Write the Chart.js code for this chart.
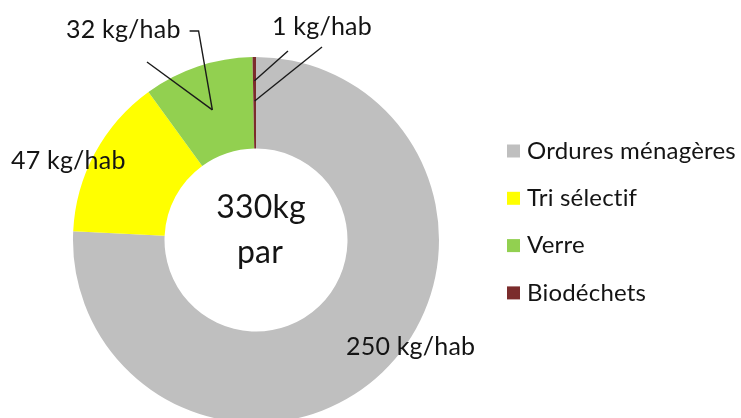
<!DOCTYPE html>
<html>
<head>
<meta charset="utf-8">
<script src="https://cdn.jsdelivr.net/npm/chart.js@4.4.1/dist/chart.umd.min.js"></script>
<style>
  html, body { margin: 0; padding: 0; background: #ffffff; overflow: hidden; width: 741px; height: 418px; }
  canvas { display: block; }
</style>
</head>
<body>
<canvas id="c" width="741" height="424"></canvas>
<script>
const categories = ['Ordures ménagères', 'Tri sélectif', 'Verre', 'Biodéchets'];
const values = [250, 47, 32, 1];
const valueLabels = ['250 kg/hab', '47 kg/hab', '32 kg/hab', '1 kg/hab'];
const colors = ['#BFBFBF', '#FFFF00', '#92D050', '#7B2C2C'];
const centerLines = ['330kg', 'par'];

const FONT = 'Lato, "Open Sans", sans-serif';
const TEXT = '#141414';

// label placement (left x, middle y) for each value label
const labelPlacement = [
  { x: 346, y: 347 },
  { x: 11, y: 161 },
  { x: 66, y: 30 },
  { x: 272, y: 27 }
];

const annotations = {
  id: 'annotations',
  afterDatasetsDraw(chart) {
    const ctx = chart.ctx;
    const meta = chart.getDatasetMeta(0);
    ctx.save();
    if ('letterSpacing' in ctx) ctx.letterSpacing = '0.2px';
    // value labels
    ctx.font = '25px ' + FONT;
    ctx.fillStyle = TEXT;
    ctx.textBaseline = 'middle';
    ctx.textAlign = 'left';
    valueLabels.forEach((t, i) => {
      ctx.fillText(t, labelPlacement[i].x, labelPlacement[i].y);
    });

    // leader lines
    const pointAt = (arc, frac) => {
      const a = (arc.startAngle + arc.endAngle) / 2;
      const r = arc.innerRadius + (arc.outerRadius - arc.innerRadius) * frac;
      return { x: arc.x + Math.cos(a) * r, y: arc.y + Math.sin(a) * r };
    };
    ctx.strokeStyle = '#1a1a1a';
    ctx.lineWidth = 1.4;
    // Verre
    const verre = meta.data[2];
    const pv = pointAt(verre, 0.5);
    const w32 = ctx.measureText(valueLabels[2]).width;
    const lx = labelPlacement[2].x + w32 + 9;
    ctx.beginPath();
    ctx.moveTo(lx, labelPlacement[2].y + 1);
    ctx.lineTo(lx + 9, labelPlacement[2].y + 1);
    ctx.lineTo(pv.x, pv.y);
    ctx.stroke();
    ctx.beginPath();
    ctx.moveTo(147, 62);
    ctx.lineTo(pv.x, pv.y);
    ctx.stroke();
    // Biodéchets
    const bio = meta.data[3];
    const pb1 = pointAt(bio, 0.74);
    const pb2 = pointAt(bio, 0.52);
    ctx.beginPath();
    ctx.moveTo(288, 51);
    ctx.lineTo(pb1.x, pb1.y);
    ctx.stroke();
    ctx.beginPath();
    ctx.moveTo(322, 47);
    ctx.lineTo(pb2.x, pb2.y);
    ctx.stroke();

    // center text
    ctx.textAlign = 'center';
    ctx.textBaseline = 'alphabetic';
    ctx.font = '32px ' + FONT;
    const cx = verre.x, cy = verre.y;
    ctx.fillText(centerLines[0], cx + 5, cy - 22);
    ctx.fillText(centerLines[1], cx + 4, cy + 23);

    // legend
    ctx.font = '24px ' + FONT;
    ctx.textAlign = 'left';
    ctx.textBaseline = 'middle';
    categories.forEach((c, i) => {
      const y = 151 + i * 47.3;
      ctx.fillStyle = colors[i];
      ctx.fillRect(507, y - 6.5, 13, 13);
      ctx.fillStyle = TEXT;
      ctx.fillText(c, 527, y);
    });
    ctx.restore();
  }
};

new Chart(document.getElementById('c'), {
  type: 'doughnut',
  data: {
    labels: categories,
    datasets: [{
      data: values,
      backgroundColor: colors,
      borderWidth: 0
    }]
  },
  options: {
    responsive: false,
    animation: false,
    devicePixelRatio: 1,
    cutout: '50%',
    layout: { padding: { left: 73, right: 302, top: 57, bottom: 1 } },
    plugins: {
      legend: { display: false },
      tooltip: { enabled: false }
    }
  },
  plugins: [annotations]
});
</script>
</body>
</html>
